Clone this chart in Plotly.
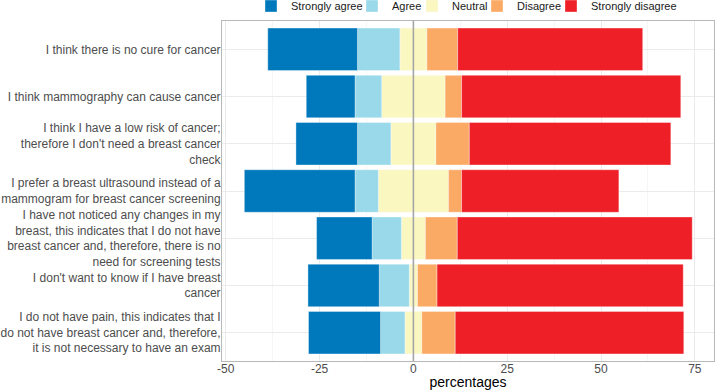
import numpy as np
import plotly.graph_objects as go

statements = [
    "I think there is no cure for cancer",
    "I think mammography can cause cancer",
    "I think I have a low risk of cancer;<br>therefore I don't need a breast cancer<br>check",
    "I prefer a breast ultrasound instead of a<br>mammogram for breast cancer screening",
    "I have not noticed any changes in my<br>breast, this indicates that I do not have<br>breast cancer and, therefore, there is no<br>need for screening tests",
    "I don't want to know if I have breast<br>cancer",
    "I do not have pain, this indicates that I<br>do not have breast cancer and, therefore,<br>it is not necessary to have an exam",
]

strongly_agree = [23.9, 13.0, 16.4, 29.5, 14.8, 19.0, 19.2]
agree = [11.3, 7.1, 8.9, 6.2, 7.8, 8.0, 6.5]
neutral = [7.2, 16.9, 12.0, 18.7, 6.4, 2.2, 4.5]
disagree = [8.2, 4.4, 8.9, 3.5, 8.5, 5.2, 8.9]
strongly_disagree = [49.3, 58.4, 53.7, 41.9, 62.6, 65.6, 60.9]

colors = {
    "Strongly agree": "#0079BC",
    "Agree": "#99D9EA",
    "Neutral": "#FAF7C0",
    "Disagree": "#FBAA65",
    "Strongly disagree": "#EE1F26",
}

half_neutral = np.array(neutral) / 2
line = dict(color="rgba(255,255,255,0.6)", width=0.6)
W = 0.9

fig = go.Figure()
# negative side stacks outward from 0 in trace order
fig.add_trace(go.Bar(y=statements, x=-half_neutral, orientation="h", name="Neutral",
                     marker=dict(color=colors["Neutral"], line=line), legend="legend3",
                     showlegend=True, width=W))
fig.add_trace(go.Bar(y=statements, x=half_neutral, orientation="h", name="Neutral",
                     marker=dict(color=colors["Neutral"], line=line), showlegend=False, width=W))
fig.add_trace(go.Bar(y=statements, x=-np.array(agree), orientation="h", name="Agree",
                     marker=dict(color=colors["Agree"], line=line), legend="legend2", width=W))
fig.add_trace(go.Bar(y=statements, x=disagree, orientation="h", name="Disagree",
                     marker=dict(color=colors["Disagree"], line=line), legend="legend4", width=W))
fig.add_trace(go.Bar(y=statements, x=-np.array(strongly_agree), orientation="h", name="Strongly agree",
                     marker=dict(color=colors["Strongly agree"], line=line), legend="legend", width=W))
fig.add_trace(go.Bar(y=statements, x=strongly_disagree, orientation="h", name="Strongly disagree",
                     marker=dict(color=colors["Strongly disagree"], line=line), legend="legend5", width=W))

fig.add_shape(type="line", xref="x", yref="paper", x0=0, x1=0, y0=0, y1=1,
              line=dict(color="#A6A6A6", width=1.6), layer="above")

def leg(text_start_px):
    return dict(orientation="h", xref="container", yref="container",
                x=(text_start_px - 40) / 715, xanchor="left",
                y=1 - 6 / 390, yanchor="middle",
                bgcolor="rgba(0,0,0,0)", borderwidth=0,
                font=dict(size=11, color="#1A1A1A"))

fig.update_layout(
    width=715, height=390,
    barmode="relative", bargap=0.1,
    margin=dict(l=222, r=1, t=21, b=29, autoexpand=False),
    paper_bgcolor="white", plot_bgcolor="white",
    font=dict(family="Liberation Sans, Arial, sans-serif", size=12, color="#4D4D4D"),
    legend=leg(291), legend2=leg(392), legend3=leg(452), legend4=leg(517), legend5=leg(591),
    xaxis=dict(range=[-51, 80.1], tickmode="array", tickvals=[-50, -25, 0, 25, 50, 75],
               ticktext=["-50", "-25", "0", "25", "50", "75"],
               showgrid=True, gridcolor="#EBEBEB", gridwidth=1,
               minor=dict(tickvals=[-37.5, -12.5, 12.5, 37.5, 62.5], showgrid=True,
                          gridcolor="#F5F5F5", gridwidth=1),
               zeroline=False, showline=True, linecolor="#B8B8B8", linewidth=1, mirror=True,
               ticks="", automargin=False, ticklabelstandoff=-3,
               title=dict(text="percentages", font=dict(size=14, color="#000000"), standoff=0),
               tickfont=dict(size=12, color="#4D4D4D")),
    yaxis=dict(categoryorder="array", categoryarray=statements[::-1],
               range=[-0.6, 6.6], automargin=False, ticklabelstandoff=-2,
               showgrid=True, gridcolor="#EBEBEB", gridwidth=1,
               zeroline=False, showline=True, linecolor="#B8B8B8", linewidth=1, mirror=True,
               ticks="",
               tickfont=dict(size=12, color="#4D4D4D")),
)

fig.write_html("out.html", config={"displayModeBar": False},
               post_script="document.body.style.margin='0';")
